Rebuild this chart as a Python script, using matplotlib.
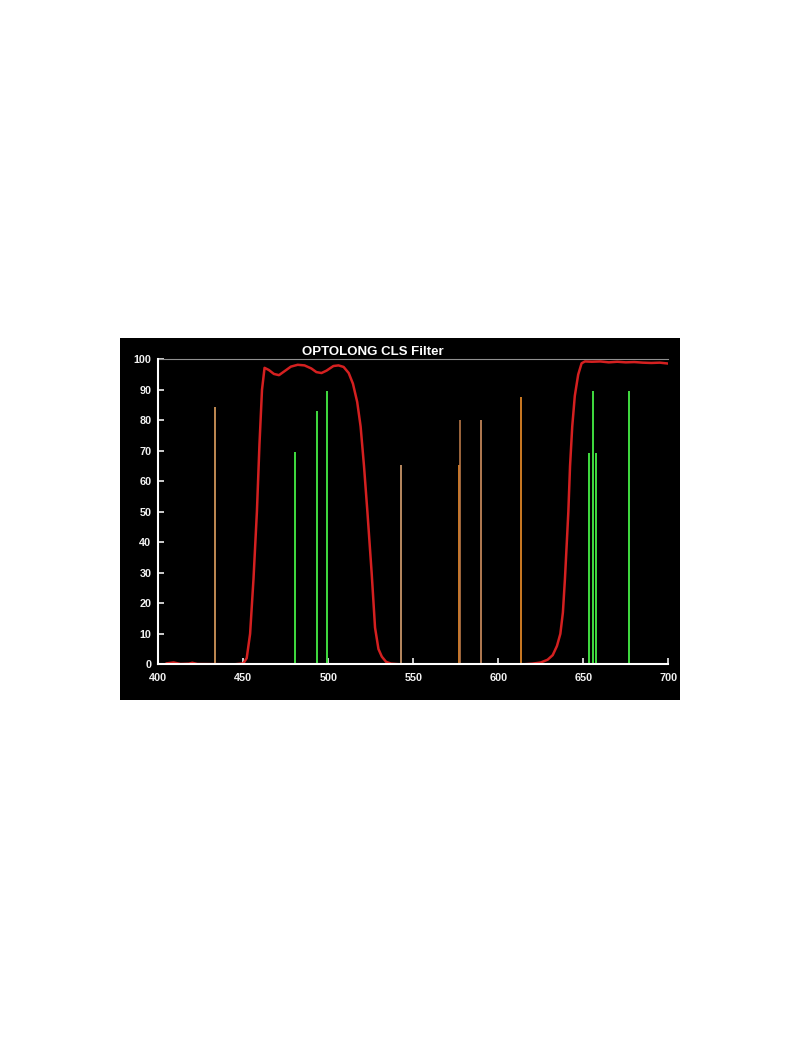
import matplotlib.pyplot as plt
from matplotlib.patches import Rectangle

plt.rcParams['font.family'] = ['Liberation Sans', 'DejaVu Sans']

# Transmission curve of the filter (nm, %)
wl = [405, 409, 413, 418, 420, 423, 445, 450, 452, 454, 456, 458, 459.5, 461,
      462.5, 465, 468, 471, 474, 478, 482, 486, 490, 493, 496, 499, 503, 506,
      509, 512, 514.5, 517, 519, 521, 523, 525.5, 527.5, 529.5, 531.5, 534,
      537, 542, 615, 620, 625, 629, 632, 634.5, 636.5, 638, 639.2, 640.3,
      641.2, 642.2, 643.5, 645, 647, 649, 651, 655, 660, 665, 670, 675, 680,
      685, 690, 695, 700]
trans = [0.3, 0.6, 0.1, 0.2, 0.5, 0.1, 0, 0.3, 2, 10, 28, 50, 72, 90,
         97.2, 96.5, 95.2, 94.8, 96, 97.6, 98.2, 98, 97, 95.8, 95.5, 96.3, 97.8, 98,
         97.5, 95.5, 92, 86, 78, 65, 50, 30, 12, 5, 2.5, 0.8,
         0.2, 0, 0, 0.2, 0.6, 1.5, 3, 6, 10, 17, 28, 40,
         50, 65, 78, 88, 95, 98.7, 99.3, 99.2, 99.3, 99, 99.2, 99, 99.1,
         98.9, 98.8, 98.9, 98.6]

# Emission lines: light pollution (orange) and nebula lines (green)
pollution_wl = [433.5, 542.6, 576.8, 577.6, 589.6, 613.2]
pollution_h = [84.2, 65.2, 65.2, 80.2, 80.2, 87.5]
pollution_col = ['#e0a060', '#d8a070', '#f08c28', '#b87848', '#d09060', '#f0902a']

nebula_wl = [480.4, 493.5, 499.4, 653.2, 655.5, 657.7, 676.9]
nebula_h = [69.6, 83.1, 89.6, 69.4, 89.6, 69.4, 89.6]

fig = plt.figure(figsize=(8, 10.4), dpi=100)
fig.patch.set_facecolor('white')
fig.add_artist(Rectangle((120 / 800, 1 - 700 / 1040), 560 / 800, 362 / 1040,
                         transform=fig.transFigure, facecolor='black',
                         edgecolor='none', zorder=-10))

ax = fig.add_axes([158.3 / 800, 1 - 664.3 / 1040, 510 / 800, 305 / 1040])
ax.set_facecolor('black')

ax.vlines(pollution_wl, 0, pollution_h, colors=pollution_col, linewidth=1.2)
ax.vlines(nebula_wl, 0, nebula_h, colors='#40dc40', linewidth=1.4)
ax.plot(wl, trans, color='#d42020', linewidth=1.8, zorder=3)

ax.set_xlim(400, 700)
ax.set_ylim(0, 100)
ax.set_xticks(range(400, 701, 50))
ax.set_yticks(range(0, 101, 10))

for s in ['left', 'bottom']:
    ax.spines[s].set_color('white')
    ax.spines[s].set_linewidth(1.5)
    ax.spines[s].set_zorder(4)
ax.spines['top'].set_color('#909090')
ax.spines['top'].set_linewidth(0.8)
ax.spines['right'].set_visible(False)

ax.tick_params(direction='in', colors='#f0f0f0', length=4, width=1.2,
               labelsize=7.8)
ax.tick_params(axis='x', pad=6)
ax.tick_params(axis='y', pad=5)
for lab in ax.get_xticklabels() + ax.get_yticklabels():
    lab.set_fontweight('bold')

fig.text(373 / 800, 1 - 352 / 1040, 'OPTOLONG CLS Filter', color='white',
         fontsize=9.5, fontweight='bold', ha='center', va='center')

fig.savefig('out.png', dpi=100, facecolor='white')
